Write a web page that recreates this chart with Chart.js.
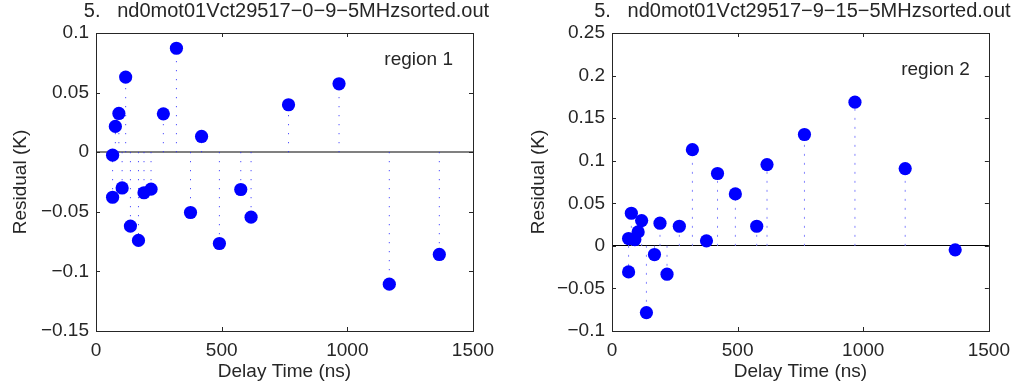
<!DOCTYPE html>
<html>
<head>
<meta charset="utf-8">
<script src="https://cdn.jsdelivr.net/npm/chart.js@4"></script>
<style>
  html, body { margin: 0; padding: 0; background: #fff; overflow: hidden; }
  body { width: 1018px; height: 387px; position: relative; }
  canvas { position: absolute; top: 0; }
</style>
</head>
<body>
<canvas id="left" width="509" height="387" style="left:0"></canvas>
<canvas id="right" width="502" height="387" style="left:516px"></canvas>
<script>
// delay times shared by both panels (ns)
const delayTimes = [66, 66, 77, 91, 104, 118, 137, 169, 191, 219, 268, 320, 376, 420, 491, 576, 617, 766, 967, 1167, 1366];
const region1Residuals = [-0.0025, -0.0378, 0.0216, 0.0325, -0.030, 0.063, -0.062, -0.074, -0.034, -0.031, 0.0322, 0.0872, -0.0506, 0.0132, -0.0766, -0.0313, -0.0545, 0.0398, 0.0574, -0.1107, -0.0858];
const region2Residuals = [0.0086, -0.0306, 0.0383, 0.0074, 0.0164, 0.0297, -0.0784, -0.0102, 0.0266, -0.0333, 0.023, 0.113, 0.0059, 0.085, 0.061, 0.023, 0.0955, 0.1308, 0.1688, 0.0908, -0.0047];

const xTicks = [0, 500, 1000, 1500];
const yTicks1 = [-0.15, -0.1, -0.05, 0, 0.05, 0.1];
const yTicks2 = [-0.1, -0.05, 0, 0.05, 0.1, 0.15, 0.2, 0.25];

const titles = ['5.   nd0mot01Vct29517\u22120\u22129\u22125MHzsorted.out', '5.   nd0mot01Vct29517\u22129\u221215\u22125MHzsorted.out'];
const regionLabels = ['region 1', 'region 2'];

const INK = '#262626';
const FONT = 'Liberation Sans, Arial, Helvetica, sans-serif';

function fmt(v) {
  const s = String(Number(v.toFixed(2)));
  return s.replace('-', '\u2212');
}

// frame + inward ticks + title + region text, matlab style
const frame = {
  id: 'frame',
  afterDatasetsDraw(chart, args, opts) {
    const { ctx, chartArea: a, scales } = chart;
    ctx.save();
    ctx.strokeStyle = INK;
    ctx.lineWidth = 1;
    ctx.strokeRect(Math.round(a.left) + 0.5, Math.round(a.top) + 0.5, Math.round(a.right - a.left), Math.round(a.bottom - a.top));
    ctx.beginPath();
    scales.x.ticks.forEach(t => {
      const px = Math.round(scales.x.getPixelForValue(t.value)) + 0.5;
      ctx.moveTo(px, a.bottom); ctx.lineTo(px, a.bottom - 4);
      ctx.moveTo(px, a.top); ctx.lineTo(px, a.top + 4);
    });
    scales.y.ticks.forEach(t => {
      const py = Math.round(scales.y.getPixelForValue(t.value)) + 0.5;
      ctx.moveTo(a.left, py); ctx.lineTo(a.left + 4, py);
      ctx.moveTo(a.right, py); ctx.lineTo(a.right - 4, py);
    });
    ctx.stroke();

    ctx.fillStyle = INK;
    ctx.textBaseline = 'middle';
    ctx.font = '20px ' + FONT;
    ctx.textAlign = 'center';
    ctx.fillText(opts.title, (a.left + a.right) / 2 + 2, 11);
    ctx.font = '19px ' + FONT;
    ctx.textAlign = 'right';
    ctx.fillText(opts.region, a.right - opts.regionDx, opts.regionY);
    ctx.restore();
  }
};

function makeChart(id, residuals, yTicks, cfg) {
  const stems = [];
  delayTimes.forEach((t, i) => {
    stems.push({ x: t, y: 0 }, { x: t, y: residuals[i] }, { x: t, y: null });
  });
  const points = delayTimes.map((t, i) => ({ x: t, y: residuals[i] }));

  return new Chart(document.getElementById(id), {
    type: 'scatter',
    data: {
      datasets: [
        {
          data: points,
          backgroundColor: '#0000ff',
          borderWidth: 0,
          pointRadius: 6.6,
          order: 0
        },
        {
          type: 'line',
          data: stems,
          borderColor: cfg.stemColor,
          borderWidth: 1,
          borderDash: cfg.stemDash,
          pointRadius: 0,
          spanGaps: false,
          order: 1
        }
      ]
    },
    options: {
      responsive: false,
      animation: false,
      events: [],
      layout: { padding: { top: 33, right: cfg.padRight, left: 0, bottom: 0 } },
      plugins: {
        legend: { display: false },
        tooltip: { enabled: false },
        frame: { title: cfg.title, region: cfg.region, regionDx: cfg.regionDx, regionY: cfg.regionY }
      },
      scales: {
        x: {
          type: 'linear',
          min: 0,
          max: 1500,
          afterBuildTicks(scale) { scale.ticks = xTicks.map(v => ({ value: v })); },
          afterFit(scale) { scale.height = 56; },
          grid: { display: false, drawTicks: false },
          border: { display: false },
          ticks: { color: INK, font: { family: FONT, size: 19 }, padding: 8, maxRotation: 0, callback: v => String(v) },
          title: { display: true, text: 'Delay Time (ns)', color: INK, font: { family: FONT, size: 19 }, padding: { top: 0, bottom: 4 } }
        },
        y: {
          min: yTicks[0],
          max: yTicks[yTicks.length - 1],
          afterBuildTicks(scale) { scale.ticks = yTicks.map(v => ({ value: v })); },
          afterFit(scale) { scale.width = 96; },
          grid: {
            drawTicks: false,
            color: c => (c.tick && c.tick.value === 0) ? cfg.zeroColor : 'rgba(0,0,0,0)',
            lineWidth: c => (c.tick && c.tick.value === 0) ? cfg.zeroWidth : 0
          },
          border: { display: false },
          ticks: { color: INK, font: { family: FONT, size: 19 }, padding: 7, callback: v => fmt(v) },
          title: { display: true, text: 'Residual (K)', color: INK, font: { family: FONT, size: 19 }, padding: { top: cfg.yTitlePad, bottom: 0 } }
        }
      }
    },
    plugins: [frame]
  });
}

makeChart('left', region1Residuals, yTicks1, {
  title: titles[0], region: regionLabels[0], regionDx: 20, regionY: 60,
  stemColor: '#2a2aff', stemDash: [1, 8], zeroColor: '#808080', zeroWidth: 2,
  padRight: 36, yTitlePad: 9
});
makeChart('right', region2Residuals, yTicks2, {
  title: titles[1], region: regionLabels[1], regionDx: 19, regionY: 70,
  stemColor: '#8585ff', stemDash: [2, 7], zeroColor: '#000000', zeroWidth: 1,
  padRight: 29, yTitlePad: 11
});
</script>
</body>
</html>
